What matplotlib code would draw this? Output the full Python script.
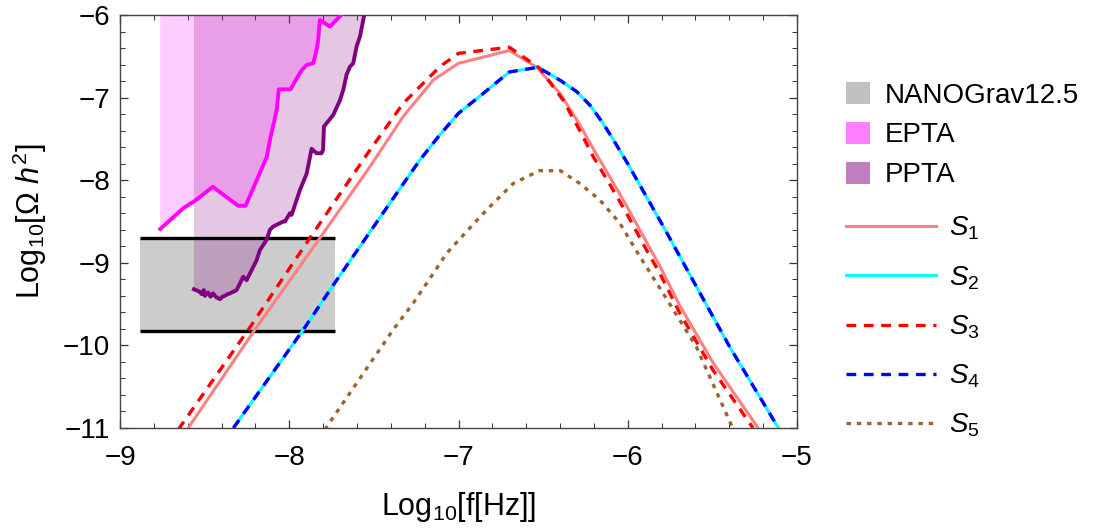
import matplotlib
matplotlib.use('Agg')
import matplotlib.pyplot as plt
from matplotlib.patches import Patch
from matplotlib.lines import Line2D
from matplotlib.ticker import MultipleLocator

plt.rcParams['font.family'] = ['Liberation Sans', 'DejaVu Sans']
plt.rcParams['mathtext.fontset'] = 'custom'
plt.rcParams['mathtext.rm'] = 'Liberation Sans'
plt.rcParams['mathtext.it'] = 'Liberation Sans:italic'
plt.rcParams['mathtext.bf'] = 'Liberation Sans:bold'
plt.rcParams['lines.scale_dashes'] = False

# ---------------- data ----------------
nanograv_logf = [-8.88, -7.73]
nanograv_logomega = [-9.82, -8.70]

epta_logf = [-8.762, -8.626, -8.551, -8.452, -8.301, -8.258, -8.133, -8.114,
             -8.074, -8.062, -7.992, -7.962, -7.927, -7.897, -7.858, -7.838,
             -7.829, -7.819, -7.760, -7.67]
epta_logomega = [-8.59, -8.34, -8.24, -8.08, -8.31, -8.31, -7.72, -7.51,
                 -7.15, -6.90, -6.90, -6.79, -6.67, -6.605, -6.585, -6.42,
                 -6.30, -6.06, -6.14, -5.95]

ppta_logf = [-8.563, -8.530, -8.517, -8.505, -8.498, -8.480, -8.465, -8.451,
             -8.430, -8.409, -8.395, -8.380, -8.365, -8.350, -8.311, -8.272,
             -8.252, -8.193, -8.173, -8.133, -8.114, -8.094, -8.035, -8.025,
             -7.996, -7.986, -7.937, -7.897, -7.868, -7.838, -7.809, -7.800,
             -7.795, -7.740, -7.700, -7.680, -7.661, -7.641, -7.622, -7.602,
             -7.582, -7.557, -7.55]
ppta_logomega = [-9.32, -9.35, -9.38, -9.33, -9.40, -9.36, -9.41, -9.37,
                 -9.42, -9.44, -9.41, -9.40, -9.38, -9.37, -9.33, -9.17,
                 -9.21, -8.97, -8.845, -8.72, -8.60, -8.56, -8.50, -8.50,
                 -8.40, -8.42, -8.12, -7.92, -7.62, -7.674, -7.674, -7.63,
                 -7.35, -7.21, -7.03, -6.90, -6.72, -6.625, -6.585, -6.38,
                 -6.26, -6.0, -5.95]

s1_logf = [-8.597, -8.203, -7.819, -7.523, -7.327, -7.149, -7.0, -6.7, -6.54,
           -6.40, -6.283, -6.204, -6.086, -6.007, -5.889, -5.81, -5.692,
           -5.496, -5.23]
s1_logomega = [-11.0, -9.81, -8.70, -7.836, -7.23, -6.787, -6.585, -6.43, -6.63,
               -6.95, -7.33, -7.62, -8.03, -8.31, -8.75, -9.04, -9.52,
               -10.21, -11.0]

s2_logf = [-8.33, -7.917, -7.74, -7.386, -7.228, -7.11, -7.0, -6.854, -6.7,
           -6.53, -6.40, -6.30, -6.22, -6.15, -6.10, -6.0, -5.909, -5.79,
           -5.653, -5.594, -5.397, -5.11]
s2_logomega = [-11.0, -9.81, -9.27, -8.22, -7.755, -7.45, -7.19, -6.95, -6.69,
               -6.633, -6.79, -6.93, -7.10, -7.30, -7.46, -7.80, -8.13, -8.56,
               -9.07, -9.29, -10.02, -11.0]

s3_logf = [-8.656, -8.242, -7.878, -7.523, -7.327, -7.11, -7.0, -6.7, -6.52,
           -6.382, -6.283, -6.204, -6.086, -6.007, -5.889, -5.81, -5.692,
           -5.496, -5.26]
s3_logomega = [-11.02, -9.81, -8.70, -7.634, -7.07, -6.625, -6.464, -6.39,
               -6.645, -7.03, -7.40, -7.715, -8.12, -8.40, -8.845, -9.13,
               -9.61, -10.30, -11.0]

s4_logf = s2_logf
s4_logomega = s2_logomega

s5_logf = [-7.79, -7.386, -7.268, -7.169, -7.07, -6.952, -6.834, -6.677,
           -6.523, -6.398, -6.283, -6.165, -6.047, -5.94, -5.791, -5.594, -5.38]
s5_logomega = [-11.02, -9.81, -9.49, -9.19, -8.885, -8.62, -8.36, -8.04,
               -7.885, -7.885, -8.04, -8.24, -8.52, -8.885, -9.37, -10.02, -11.0]

band_labels = ['NANOGrav12.5', 'EPTA', 'PPTA']
curve_labels = ['$S_1$', '$S_2$', '$S_3$', '$S_4$', '$S_5$']

# ---------------- figure ----------------
W, H = 1096, 529
fig = plt.figure(figsize=(W / 100, H / 100), dpi=100)
ax = fig.add_axes([120 / W, 1 - 428 / H, (797 - 120) / W, (428 - 15) / H])

# NANOGrav band
ax.fill_between(nanograv_logf, [nanograv_logomega[0]] * 2, [nanograv_logomega[1]] * 2,
                color='#CCCCCC', lw=0, zorder=1)
for yv in nanograv_logomega:
    ax.plot(nanograv_logf, [yv, yv], color='black', lw=2.4, solid_capstyle='butt', zorder=3)

# PPTA region
ax.fill_between(ppta_logf, ppta_logomega, [0] * len(ppta_logf),
                color='#800080', alpha=0.22, lw=0, zorder=2)
# EPTA region
ax.fill_between(epta_logf, epta_logomega, [0] * len(epta_logf),
                color='#FF00FF', alpha=0.2, lw=0, zorder=2)
ax.plot(ppta_logf, ppta_logomega, color='#800080', lw=2.8, zorder=4)
ax.plot(epta_logf, epta_logomega, color='#FF00FF', lw=2.8, zorder=4)

# Spectra
ax.plot(s1_logf, s1_logomega, color='#FF8080', lw=2.2, zorder=5)
ax.plot(s3_logf, s3_logomega, color='#FF0000', lw=2.4, dashes=(7, 5.5), zorder=6)
ax.plot(s2_logf, s2_logomega, color='#00FFFF', lw=2.2, zorder=5)
ax.plot(s4_logf, s4_logomega, color='#0000FF', lw=2.4, dashes=(7, 5.5), zorder=6)
ax.plot(s5_logf, s5_logomega, color='#996633', lw=2.4, dashes=(3.2, 4.2), zorder=6)

ax.set_xlim(-9, -5)
ax.set_ylim(-11, -6)
ax.set_xticks([-9, -8, -7, -6, -5])
ax.set_yticks([-11, -10, -9, -8, -7, -6])
ax.xaxis.set_minor_locator(MultipleLocator(0.2))
ax.yaxis.set_minor_locator(MultipleLocator(0.2))
ax.tick_params(which='both', direction='in', top=True, right=True, colors='#333333')
ax.tick_params(which='major', length=6, width=0.9, labelsize=20, labelcolor='black')
ax.tick_params(axis='x', which='major', pad=12)
ax.tick_params(axis='y', which='major', pad=7)
ax.tick_params(which='minor', length=3.5, width=0.7)
for sp in ax.spines.values():
    sp.set_color('#444444')
    sp.set_linewidth(1.0)

ax.set_xlabel('Log$_{10}$[f[Hz]]', fontsize=22, labelpad=14)
ax.set_ylabel(r'Log$_{10}$[$\Omega$ $h^2$]', fontsize=22)
ax.yaxis.set_label_coords(-0.105, 0.5)

# Legends
band_handles = [Patch(facecolor='#C0C0C0', edgecolor='none'),
                Patch(facecolor='#FF80FF', edgecolor='none'),
                Patch(facecolor='#C080C0', edgecolor='none')]
leg1 = fig.legend(band_handles, band_labels, loc='upper left',
                  bbox_to_anchor=(846 / W, 1 - 82 / H), frameon=False, fontsize=20,
                  handlelength=0.85, handleheight=0.85, handletextpad=0.55,
                  labelspacing=0.47, borderpad=0, borderaxespad=0)

curve_handles = [Line2D([], [], color='#FF8080', lw=2.2),
                 Line2D([], [], color='#00FFFF', lw=2.2),
                 Line2D([], [], color='#FF0000', lw=2.4, dashes=(7, 5.5)),
                 Line2D([], [], color='#0000FF', lw=2.4, dashes=(7, 5.5)),
                 Line2D([], [], color='#996633', lw=2.4, dashes=(3.2, 4.2))]
leg2 = fig.legend(curve_handles, curve_labels, loc='upper left',
                  bbox_to_anchor=(846 / W, 1 - 215 / H), frameon=False, fontsize=20,
                  handlelength=3.25, handletextpad=0.45,
                  labelspacing=0.78, borderpad=0, borderaxespad=0)

fig.savefig('out.png', dpi=100)
